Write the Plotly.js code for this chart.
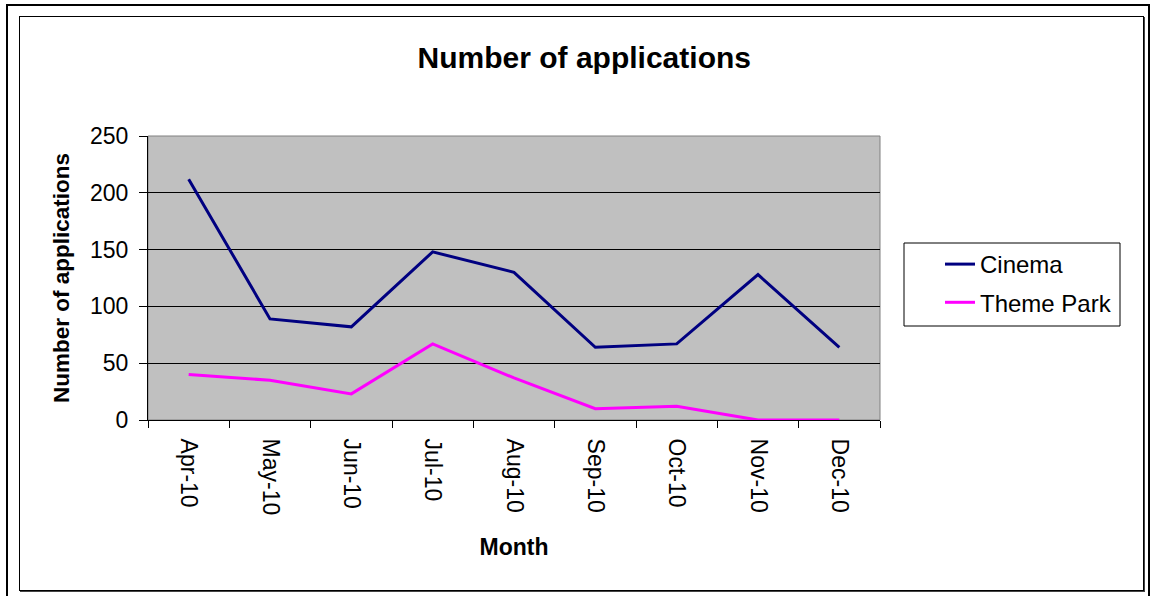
<!DOCTYPE html>
<html>
<head>
<meta charset="utf-8">
<script src="https://cdn.plot.ly/plotly-3.0.1.min.js"></script>
<style>
  html, body { margin: 0; padding: 0; width: 1157px; height: 596px; overflow: hidden; background: #fff; }
  #outer { position: absolute; left: 6px; top: 4px; width: 1144px; height: 620px; border: 2px solid #000; box-sizing: border-box; }
  #inner { position: absolute; left: 19px; top: 16px; width: 1125px; height: 575px; border: 1px solid #000; box-sizing: border-box; box-shadow: 1px 1px 0 #444; }
  #chart { position: absolute; left: 0; top: 0; width: 1157px; height: 596px; }
</style>
</head>
<body>
<div id="outer"></div>
<div id="inner"></div>
<div id="chart"></div>
<script>
const months = ["Apr-10", "May-10", "Jun-10", "Jul-10", "Aug-10", "Sep-10", "Oct-10", "Nov-10", "Dec-10"];
const cinema = [212, 89, 82, 148, 130, 64, 67, 128, 64];
const themePark = [40, 35, 23, 67, 37, 10, 12, 0, 0];
const seriesNames = ["Cinema", "Theme Park"];

const FONT = "Arial, 'Liberation Sans', sans-serif";

const traces = [
  { x: months, y: cinema, name: seriesNames[0], type: "scatter", mode: "lines",
    line: { color: "#000080", width: 3 }, legendgroup: "a" },
  { x: months, y: themePark, name: seriesNames[1], type: "scatter", mode: "lines",
    line: { color: "#FF00FF", width: 3 }, legendgroup: "b" }
];

const W = 1157, H = 596;
const L = 148, R = 880, T = 136, B = 420;
const px = v => (v - L) / (R - L);
const py = v => (B - v) / (B - T);

const layout = {
  width: W, height: H,
  margin: { l: L, r: W - R, t: T, b: H - B, pad: 0 },
  paper_bgcolor: "rgba(0,0,0,0)",
  plot_bgcolor: "#C0C0C0",
  font: { family: FONT, color: "#000", size: 23 },
  title: { text: "<b>Number of applications</b>", font: { family: FONT, size: 30, color: "#000" },
           x: 0.505, xanchor: "center", y: 0.904, yanchor: "middle" },
  xaxis: {
    type: "category",
    tickangle: 90,
    tickson: "boundaries",
    ticks: "outside", ticklen: 7, tickcolor: "#000", tickwidth: 1,
    showgrid: false,
    showline: true, linecolor: "#000", linewidth: 1,
    tickfont: { family: FONT, size: 23 },
    ticklabelstandoff: 13,
    title: { text: "<b>Month</b>", font: { family: FONT, size: 23 }, standoff: 24 },
    range: [-0.5, 8.5],
    fixedrange: true
  },
  yaxis: {
    range: [0, 250], dtick: 50, tick0: 0,
    ticks: "outside", ticklen: 8, tickcolor: "#000", tickwidth: 1,
    showgrid: true, gridcolor: "#000", gridwidth: 1,
    zeroline: false,
    showline: true, linecolor: "#000", linewidth: 1,
    tickfont: { family: FONT, size: 23 },
    ticklabelstandoff: 6,
    title: { text: "<b>Number of applications</b>", font: { family: FONT, size: 22.5 }, standoff: 14 },
    fixedrange: true
  },
  showlegend: true,
  legend: {
    x: px(940), xanchor: "left",
    y: py(242), yanchor: "top",
    bgcolor: "rgba(0,0,0,0)", borderwidth: 0,
    font: { family: FONT, size: 24, color: "#000" },
    tracegroupgap: 4,
    itemclick: false, itemdoubleclick: false
  },
  shapes: [
    { type: "rect", xref: "paper", yref: "paper", x0: 0, x1: 1, y0: 0, y1: 1,
      line: { color: "#808080", width: 1 }, layer: "below" },
    { type: "rect", xref: "paper", yref: "paper", x0: px(904), x1: px(1120), y0: py(326), y1: py(243),
      line: { color: "#000", width: 1 }, fillcolor: "rgba(0,0,0,0)" }
  ]
};

Plotly.newPlot("chart", traces, layout, { displayModeBar: false, staticPlot: true });
</script>
</body>
</html>
